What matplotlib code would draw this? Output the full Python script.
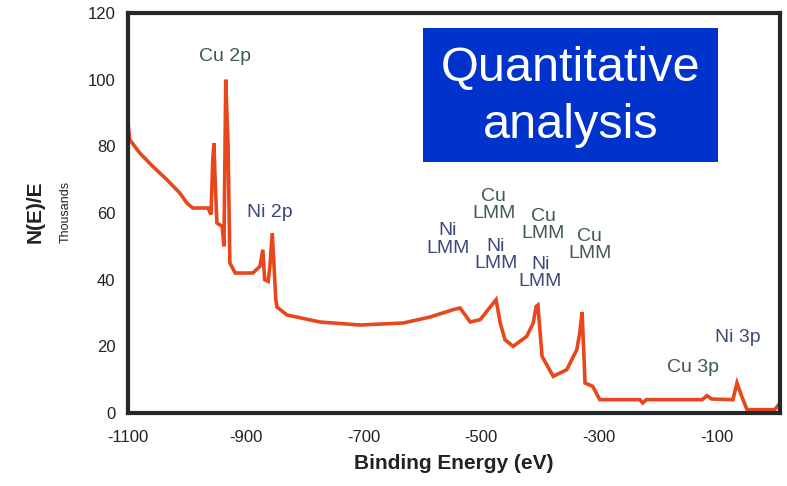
import matplotlib.pyplot as plt
from matplotlib.patches import Rectangle

plt.rcParams['font.family'] = ['Liberation Sans', 'DejaVu Sans']
plt.rcParams['axes.unicode_minus'] = False

# binding energy (eV) and counts (thousands)
energy = [-1100, -1097, -1080, -1058, -1034, -1012, -1000, -990, -964, -959,
          -956, -954, -952, -949, -940, -937, -934, -930, -927, -918,
          -888, -876, -871, -868, -862, -859, -855, -852, -849, -847,
          -830, -774, -706, -633, -587, -548, -536, -519, -502, -485,
          -475, -468, -460, -446, -423, -412, -407,
          -404, -397, -378, -355, -338, -333, -329, -324, -311, -299,
          -231, -226, -220, -125, -117, -109, -73, -66, -58, -49,
          -2, 7]
counts = [87, 82, 78, 74, 70, 66, 63, 61.5, 61.5, 59.5,
          76, 81, 70, 57, 56, 50, 100, 80, 45, 42,
          42, 44, 49, 40, 39.5, 44, 54, 44, 34, 31.8,
          29.4, 27.3, 26.4, 27, 28.8, 31, 31.5, 27.3, 28, 31.8,
          34, 27, 22, 20, 23, 27, 32,
          32.4, 17, 11, 13, 19, 24, 30.3, 9, 8, 4,
          4, 3, 4, 4, 5.2, 4.2, 4, 9, 5, 1,
          1, 3]

cu_labels = ["Cu 2p", "Cu\nLMM", "Cu\nLMM", "Cu\nLMM", "Cu 3p"]
cu_pos = [(-935, 107), (-479, 62.4), (-395, 56.4), (-316, 50.4), (-141, 13.8)]
ni_labels = ["Ni 2p", "Ni\nLMM", "Ni\nLMM", "Ni\nLMM", "Ni 3p"]
ni_pos = [(-859, 60.3), (-557, 52), (-475, 47.4), (-400, 42), (-64, 22.8)]

xticks = [-1100, -900, -700, -500, -300, -100]
yticks = [0, 20, 40, 60, 80, 100, 120]

fig = plt.figure(figsize=(7.87, 4.86), dpi=100)
ax = fig.add_axes([0.1626, 0.1502, 0.8285, 0.823])

ax.plot(energy, counts, color="#e8471c", lw=2.6, solid_joinstyle="miter")

for lab, (x, y) in zip(cu_labels, cu_pos):
    ax.text(x, y, lab, color="#405a57", fontsize=14, ha="center", va="center",
            linespacing=1.05)
for lab, (x, y) in zip(ni_labels, ni_pos):
    ax.text(x, y, lab, color="#3d4a78", fontsize=14, ha="center", va="center",
            linespacing=1.05)

ax.add_patch(Rectangle((0.452, 0.6275), 0.453, 0.335, transform=ax.transAxes,
                       facecolor="#0033cc", edgecolor="none", zorder=3))
ax.text(0.6785, 0.8625, "Quantitative", transform=ax.transAxes, color="white",
        fontsize=35, ha="center", va="center", zorder=4)
ax.text(0.6785, 0.72, "analysis", transform=ax.transAxes, color="white",
        fontsize=35, ha="center", va="center", zorder=4)

ax.set_xlim(-1100, 7)
ax.set_ylim(0, 120)
ax.set_xticks(xticks)
ax.set_yticks(yticks)
ax.tick_params(length=0, labelsize=12, colors="#222222")
ax.tick_params(axis="x", pad=12)
ax.tick_params(axis="y", pad=9)
for s in ax.spines.values():
    s.set_color("#23292b")
    s.set_linewidth(3)

fig.text(0.576, 0.047, "Binding Energy (eV)", fontsize=15, fontweight="bold",
         color="#222222", ha="center", va="center")
fig.text(0.0445, 0.564, "N(E)/E", fontsize=15, fontweight="bold", rotation=90,
         color="#222222", ha="center", va="center")
fig.text(0.083, 0.564, "Thousands", fontsize=9, rotation=90,
         color="#222222", ha="center", va="center")

fig.savefig("out.png", dpi=100)
